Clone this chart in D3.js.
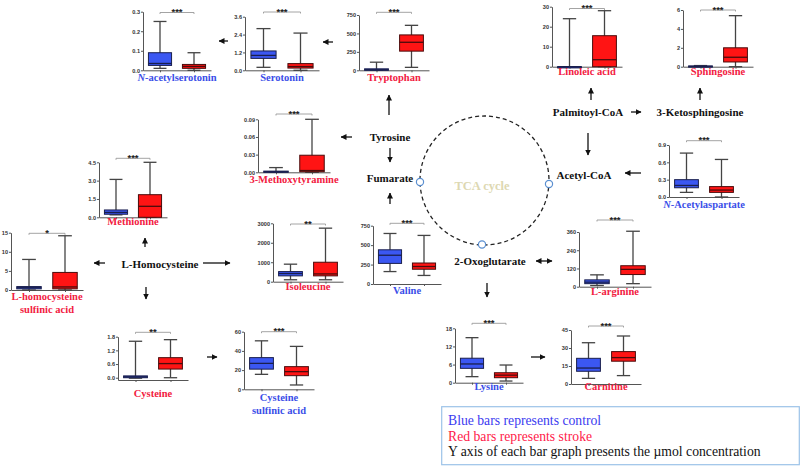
<!DOCTYPE html>
<html><head><meta charset="utf-8">
<script src="https://cdn.jsdelivr.net/npm/d3@7"></script>
<style>
body{margin:0;background:#fff}
svg{display:block}
</style></head><body>
<script>
// metabolites, one box plot each ("|" = line break in label)
const names = ["N-acetylserotonin","Serotonin","Tryptophan","Linoleic acid","Sphingosine","3-Methoxytyramine",
  "N-Acetylaspartate","Methionine","L-homocysteine|sulfinic acid","Isoleucine","Valine","L-arginine",
  "Cysteine","Cysteine|sulfinic acid","Lysine","Carnitine"]
// label colour: "down" = blue, "up" = red
const change = ["down","down","up","up","up","up","down","up","up","up","down","up","up","down","down","up"]
const groups = ["control","stroke"]
// [min, q1, median, q3, max]
const controlStats = [
  [0.01,0.025,0.035,0.09,0.25],[0.2,0.8,1.0,1.3,2.8],[0,0,8,20,110],[0,0,0,0,24],
  [0,0,0.03,0.08,0.12],[0,0,0.001,0.002,0.008],[0.08,0.16,0.2,0.3,0.76],[0.2,0.25,0.4,0.6,3.1],
  [0,0.3,0.6,0.9,8],[100,300,420,520,900],[160,265,370,440,650],[8,20,30,45,78],
  [-0.02,0,0.04,0.08,1.6],[15.6,21,27,33,50.5],[2,4.75,6.2,8.1,14.9],[4.7,10.6,13.3,21.4,34.4]]
const strokeStats = [
  [0,0.01,0.02,0.03,0.09],[0,0.15,0.25,0.45,2.5],[40,260,380,480,610],[0,0,3.5,15.5,28],
  [0,0.5,1.0,2.0,5.4],[0,0.001,0.003,0.029,0.09],[0,0.08,0.12,0.18,0.65],[0,0,0.9,1.85,4.5],
  [0,0.3,0.8,4.6,14.2],[100,300,400,1000,2750],[110,190,225,270,625],[20,80,114,138,365],
  [0,0.38,0.62,0.88,1.67],[4.5,14.2,18.4,23.6,44.7],[0.55,1.65,2.5,3.3,5.85],[7,19,22,27,40]]
const yTicks = [[0,0.1,0.2,0.3],[0,1.2,2.4,3.6],[0,250,500,750],[0,10,20,30],[0,2,4,6],[0,0.03,0.06,0.09],
  [0,0.3,0.6,0.9],[0,1.5,3,4.5],[0,5,10,15],[0,1000,2000,3000],[0,250,500,750],[0,120,240,360],
  [0,0.6,1.2,1.8],[0,20,40,60],[0,6,12,18],[0,15,30,45]]
const tickFmt = [".1f",".1f","d","d","d",".2f",".1f",".1f","d","d","d","d",".1f","d","d","d"]
const yFloor = [0,0,0,0,0,0,0,0,0,0,0,0,-0.1,0,0,0]
const stars = ["***","***","***","***","***","***","***","***","*","**","***","***","**","***","***","***"]

// pathway nodes
const nodes = ["Tyrosine","Fumarate","Palmitoyl-CoA","3-Ketosphingosine","Acetyl-CoA","L-Homocysteine","2-Oxoglutarate"]

// layout of each panel: y-axis x, pixel y of top tick and of floor, width, label y, bracket y
const layout = [
  {ax:143,top:11.7,bottom:70.3,W:68,ly:81,by:12.5},
  {ax:245,top:16.7,bottom:70.3,W:74,ly:81,by:12},
  {ax:359,top:15,bottom:70.3,W:70,ly:81,by:12.3},
  {ax:552,top:6.7,bottom:66.7,W:70,ly:75,by:8.5},
  {ax:683,top:10,bottom:66.7,W:70,ly:75,by:10},
  {ax:258,top:119.3,bottom:172.3,W:72,ly:183,by:114},
  {ax:669,top:145,bottom:197,W:70,ly:208,by:140.7},
  {ax:99,top:162.3,bottom:217.3,W:68,ly:225,by:158.3},
  {ax:11,top:232.7,bottom:290,W:72,ly:300,by:233.3},
  {ax:273,top:223.3,bottom:281.7,W:70,ly:290,by:224},
  {ax:373,top:225.7,bottom:284,W:68,ly:294,by:223.3},
  {ax:579,top:232,bottom:286.7,W:72,ly:295,by:220},
  {ax:118,top:336.7,bottom:380,W:70,ly:397,by:332.3},
  {ax:244,top:331.7,bottom:389.3,W:70,ly:401,by:331.7},
  {ax:455,top:328.3,bottom:382.7,W:68,ly:390,by:323.3},
  {ax:571,top:330,bottom:384,W:70,ly:390,by:326}]
const nodePos = [[390,136.7],[390,178.3],[588,111.7],[700,111.7],[584,175],[160,264],[490,260.7]]

const fill = {control:"#3b57f2", stroke:"#ff1414"}
const edge = {control:"#1a1f4d", stroke:"#4a0c0c"}
const labelColor = {down:"#3a4ee8", up:"#f2203f"}

const svg = d3.select("body").append("svg").attr("width",802).attr("height",466)
  .style("font-family","'Liberation Serif', serif")

svg.append("defs").append("marker").attr("id","head")
  .attr("viewBox","0 0 6 6").attr("refX",5.5).attr("refY",3)
  .attr("markerWidth",6).attr("markerHeight",6).attr("markerUnits","userSpaceOnUse")
  .attr("orient","auto-start-reverse")
  .append("path").attr("d","M0,0L6,3L0,6z").attr("fill","#111")

// panels
layout.forEach((p,i) => {
  const g = svg.append("g")
  const y = d3.scaleLinear().domain([yFloor[i], d3.max(yTicks[i])]).range([p.bottom, p.top])
  const x = d3.scalePoint().domain(groups).range([p.ax, p.ax+p.W]).padding(0.5)
  const bw = x.step()*0.68

  const ya = g.append("g").attr("transform",`translate(${p.ax},0)`)
    .call(d3.axisLeft(y).tickValues(yTicks[i]).tickFormat(d3.format(tickFmt[i])).tickSize(2).tickSizeOuter(0))
  g.append("g").attr("transform",`translate(0,${p.bottom})`)
    .call(d3.axisBottom(x).tickSize(2).tickSizeOuter(0).tickFormat(""))
  g.selectAll(".domain, .tick line").attr("stroke","#555").attr("stroke-width",1)
  ya.selectAll("text").attr("x",-3).style("font-family","'Liberation Sans', Arial, sans-serif")
    .style("font-size","5.6px").style("font-weight","bold").attr("fill","#333")

  groups.forEach(k => {
    const [mn,q1,md,q3,mx] = (k==="control" ? controlStats : strokeStats)[i]
    const cx = x(k)
    g.append("line").attr("x1",cx).attr("x2",cx).attr("y1",y(mx)).attr("y2",y(mn))
      .attr("stroke","#444").attr("stroke-width",1.3)
    ;[mn,mx].forEach(v => g.append("line").attr("x1",cx-bw*0.28).attr("x2",cx+bw*0.28)
      .attr("y1",y(v)).attr("y2",y(v)).attr("stroke","#444").attr("stroke-width",1.3))
    g.append("rect").attr("x",cx-bw/2).attr("width",bw)
      .attr("y",y(q3)).attr("height",Math.max(y(q1)-y(q3),1.2))
      .attr("fill",fill[k]).attr("stroke",edge[k]).attr("stroke-width",1)
    g.append("line").attr("x1",cx-bw/2).attr("x2",cx+bw/2).attr("y1",y(md)).attr("y2",y(md))
      .attr("stroke",edge[k]).attr("stroke-width",1.3)
  })

  // significance bracket
  const x1 = x("control"), x2 = x("stroke")
  g.append("path").attr("d",`M${x1},${p.by+1.5}V${p.by}H${x2}V${p.by+1.5}`)
    .attr("fill","none").attr("stroke","#9a9a9a").attr("stroke-width",0.9)
  g.append("text").attr("x",(x1+x2)/2).attr("y",p.by+2.6).attr("text-anchor","middle")
    .style("font-family","'Liberation Sans', Arial, sans-serif").style("font-size","9.5px")
    .style("font-weight","bold").attr("fill","#222").text(stars[i])

  // name
  const lines = names[i].split("|")
  const t = g.append("text").attr("x",p.ax+p.W/2).attr("y",p.ly).attr("text-anchor","middle")
    .attr("dy","0.35em").style("font-size","10.5px").style("font-weight","bold").attr("fill",labelColor[change[i]])
  lines.forEach((ln,j) => {
    const ts = t.append("tspan").attr("x",p.ax+p.W/2).attr("dy",j===0?0:12.5)
    if (ln.startsWith("N-")) {
      ts.append("tspan").style("font-style","italic").text("N")
      ts.append("tspan").text(ln.slice(1))
    } else ts.text(ln)
  })
})

// TCA cycle
svg.append("circle").attr("cx",484.5).attr("cy",180.5).attr("r",64.5)
  .attr("fill","none").attr("stroke","#222").attr("stroke-width",1.3).attr("stroke-dasharray","4,3")
svg.append("text").attr("x",482).attr("y",185.7).attr("dy","0.35em").attr("text-anchor","middle")
  .style("font-size","12.5px").style("font-weight","bold").attr("fill","#ddd8b2").text("TCA cycle")
;[[420,182],[549,184],[482,244.5]].forEach(c => svg.append("circle").attr("cx",c[0]).attr("cy",c[1]).attr("r",3.6)
  .attr("fill","#fff").attr("stroke","#5b8fd0").attr("stroke-width",1.2))

nodes.forEach((n,i) => svg.append("text").attr("x",nodePos[i][0]).attr("y",nodePos[i][1]).attr("dy","0.35em")
  .attr("text-anchor","middle").style("font-size","11px").style("font-weight","bold").attr("fill","#111").text(n))

// arrows [x1,y1,x2,y2,both]
const arrows = [
  [228,41,219,41],[333,42,323,42],[389,115,389,95],[352,137,341,137],[390,148,390,162],[390,204,390,193],
  [591,100,591,88],[700,100,700,88],[631,112,641,112],[588,133,588,155],[641,173,625,173],
  [145,247,145,238],[105,263,94,263],[203,263,230,263],[146,287,146,299],[207,357,217,357],
  [536,261,552,261,1],[487,283,487,297],[531,357,545,357]]
arrows.forEach(a => svg.append("line").attr("x1",a[0]).attr("y1",a[1]).attr("x2",a[2]).attr("y2",a[3])
  .attr("stroke","#111").attr("stroke-width",1.3).attr("marker-end","url(#head)")
  .attr("marker-start",a[4] ? "url(#head)" : null))

// legend
const legendText = ["Blue bars represents control","Red bars represents stroke","Y axis of each bar graph presents the µmol concentration"]
const legendColor = ["#3b3bf0","#ff1a4a","#111"]
svg.append("rect").attr("x",441.7).attr("y",406.7).attr("width",357.6).attr("height",58)
  .attr("fill","#fff").attr("stroke","#9cc3e8").attr("stroke-width",1.2)
legendText.forEach((s,i) => svg.append("text").attr("x",448).attr("y",420+i*15.8).attr("dy","0.35em")
  .style("font-size","13.7px").attr("fill",legendColor[i]).text(s))
</script>
</body></html>
